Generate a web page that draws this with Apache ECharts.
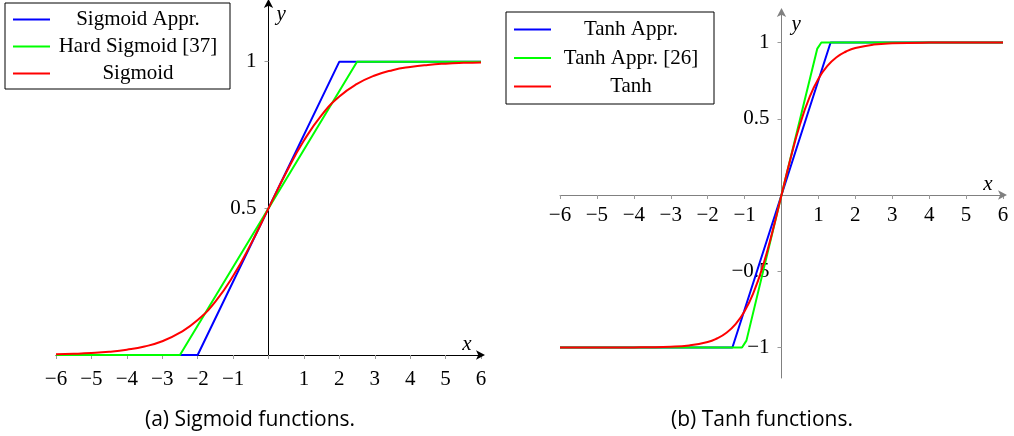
<!DOCTYPE html>
<html>
<head>
<meta charset="utf-8">
<script src="https://cdn.jsdelivr.net/npm/echarts@6/dist/echarts.min.js"></script>
<style>
html,body{margin:0;padding:0;background:#fff;}
#chart{width:1014px;height:436px;}
</style>
</head>
<body>
<div id="chart"></div>
<script>
// ---- data ----
const xTickValues = [-6,-5,-4,-3,-2,-1,0,1,2,3,4,5,6];
const xLabelValues = [-6,-5,-4,-3,-2,-1,1,2,3,4,5,6];
const sigYLabelValues = [0.5, 1];
const tanhYLabelValues = [-1, -0.5, 0.5, 1];

const sigApprX = [-6, -2, 2, 6];
const sigApprY = [0, 0, 1, 1];
const hardSigX = [-6, -2.5, 2.5, 6];
const hardSigY = [0, 0, 1, 1];
const sigX = [-6,-5.5,-5,-4.5,-4,-3.5,-3,-2.5,-2,-1.5,-1,-0.5,0,0.5,1,1.5,2,2.5,3,3.5,4,4.5,5,5.5,6];
const sigY = [0.0025,0.0041,0.0067,0.011,0.018,0.029,0.047,0.076,0.119,0.182,0.269,0.378,0.5,0.622,0.731,0.818,0.881,0.924,0.953,0.971,0.982,0.989,0.9933,0.9959,0.9975];

const tanhApprX = [-6, -1.33, 1.33, 6];
const tanhApprY = [-1, -1, 1, 1];
const tanhAppr26X = [-6, -1.07, -0.95, 0, 0.97, 1.08, 6];
const tanhAppr26Y = [-1, -1, -0.955, 0, 0.96, 1, 1];
const tanhX = [-6,-5,-4,-3,-2.5,-2,-1.75,-1.5,-1.25,-1,-0.75,-0.5,-0.25,0,0.25,0.5,0.75,1,1.25,1.5,1.75,2,2.5,3,4,5,6];
const tanhY = [-1,-0.9999,-0.9993,-0.9951,-0.9866,-0.964,-0.941,-0.905,-0.848,-0.762,-0.635,-0.462,-0.245,0,0.245,0.462,0.635,0.762,0.848,0.905,0.941,0.964,0.9866,0.9951,0.9993,0.9999,1];

const captions = ['(a) Sigmoid functions.', '(b) Tanh functions.'];

// ---- helpers ----
const pts = (xs, ys) => xs.map((x, i) => [x, ys[i]]);
const fmt = v => (v < 0 ? '\u2212' + Math.abs(v) : String(v));
const SERIF = 'Liberation Serif';
const BLUE = '#0000ff', GREEN = '#00ff00', RED = '#ff0000';

// axis lines sit on the zero of the other axis (pgfplots "axis lines = middle")
function xAxisDef(gridIndex, axisColor, labelMargin, nameGap, offset) {
  return {
    type: 'value', gridIndex, min: -6, max: 6, interval: 1, position: 'bottom', offset,
    name: 'x', nameLocation: 'end', nameGap: nameGap,
    nameTextStyle: {fontFamily: SERIF, fontStyle: 'italic', fontSize: 21, color: '#000', align: 'center', verticalAlign: 'bottom'},
    axisLine: {onZero: false, lineStyle: {color: axisColor, width: 1}, symbol: ['none', 'arrow'], symbolSize: [7, 9], symbolOffset: [0, 4]},
    axisTick: {show: true, length: 4, lineStyle: {color: '#9a9a9a'}, customValues: xTickValues},
    axisLabel: {customValues: xLabelValues, formatter: fmt, fontFamily: SERIF, fontSize: 21, color: '#000', margin: labelMargin},
    splitLine: {show: false}
  };
}
function yAxisDef(gridIndex, min, max, labels, axisColor, nameGap, namePadLeft, offset) {
  return {
    type: 'value', gridIndex, min, max, position: 'left', offset,
    name: 'y', nameLocation: 'end', nameGap: nameGap,
    nameTextStyle: {fontFamily: SERIF, fontStyle: 'italic', fontSize: 21, color: '#000', align: 'left', verticalAlign: 'middle', padding: [0, 0, 0, namePadLeft]},
    axisLine: {onZero: false, lineStyle: {color: axisColor, width: 1}, symbol: ['none', 'arrow'], symbolSize: [7, 9], symbolOffset: [0, 4]},
    axisTick: {show: true, length: 4, lineStyle: {color: '#9a9a9a'}, customValues: labels},
    axisLabel: {customValues: labels, formatter: fmt, fontFamily: SERIF, fontSize: 21, color: '#000', margin: 12, hideOverlap: false},
    splitLine: {show: false}
  };
}
function lineSeries(name, data, color, xi, smooth) {
  return {
    name, type: 'line', xAxisIndex: xi, yAxisIndex: xi, data,
    showSymbol: false, symbol: 'none', smooth: smooth ? true : false,
    lineStyle: {color, width: 2}, itemStyle: {color}, animation: false, clip: false
  };
}
function legendDef(names, left, top, textWidth, gap, padding) {
  return {
    data: names, orient: 'vertical', left, top, selectedMode: false,
    backgroundColor: '#fff', borderColor: '#000', borderWidth: 1, borderRadius: 0,
    padding, itemGap: gap, itemWidth: 37, itemHeight: 2, icon: 'rect',
    formatter: n => '{c|' + n + '}',
    textStyle: {fontFamily: SERIF, fontSize: 21, color: '#000', lineHeight: 21,
      rich: {c: {width: textWidth, align: 'center', fontFamily: SERIF, fontSize: 21, lineHeight: 21, color: '#000'}}}
  };
}

const chart = echarts.init(document.getElementById('chart'), null, {renderer: 'canvas'});
chart.setOption({
  animation: false,
  backgroundColor: '#fff',
  title: [
    {text: captions[0], left: 245, top: 405, textAlign: 'center', textStyle: {fontFamily: 'Open Sans', fontWeight: 'normal', fontSize: 21, color: '#000'}},
    {text: captions[1], left: 757, top: 405, textAlign: 'center', textStyle: {fontFamily: 'Open Sans', fontWeight: 'normal', fontSize: 21, color: '#000'}}
  ],
  grid: [
    {left: 56, width: 425, top: 3, height: 352, containLabel: false},
    {left: 560, width: 443, top: 12, height: 366, containLabel: false}
  ],
  xAxis: [xAxisDef(0, '#000', 14, -14, 0), xAxisDef(1, '#808080', 10, -15, -183)],
  yAxis: [yAxisDef(0, 0, 1.2, sigYLabelValues, '#000', -11, 8, -212.5), yAxisDef(1, -1.2, 1.2, tanhYLabelValues, '#808080', -12, 10, -221.5)],
  legend: [
    legendDef(['Sigmoid Appr.', 'Hard Sigmoid [37]', 'Sigmoid'], 5, 3, 166, 6, [6, 9, 5, 8]),
    legendDef(['Tanh Appr.', 'Tanh Appr. [26]', 'Tanh'], 506, 12, 150, 7.5, [7, 8, 7, 8])
  ],
  series: [
    lineSeries('Sigmoid Appr.', pts(sigApprX, sigApprY), BLUE, 0, false),
    lineSeries('Hard Sigmoid [37]', pts(hardSigX, hardSigY), GREEN, 0, false),
    lineSeries('Sigmoid', pts(sigX, sigY), RED, 0, true),
    lineSeries('Tanh Appr.', pts(tanhApprX, tanhApprY), BLUE, 1, false),
    lineSeries('Tanh Appr. [26]', pts(tanhAppr26X, tanhAppr26Y), GREEN, 1, false),
    lineSeries('Tanh', pts(tanhX, tanhY), RED, 1, true)
  ]
});
</script>
</body>
</html>
